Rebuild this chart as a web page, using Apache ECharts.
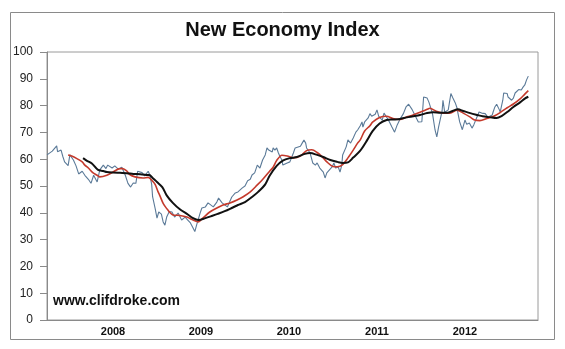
<!DOCTYPE html>
<html>
<head>
<meta charset="utf-8">
<title>New Economy Index</title>
<script src="https://cdn.jsdelivr.net/npm/echarts@6/dist/echarts.min.js"></script>
<style>
  html, body { margin: 0; padding: 0; background: #fff; }
  #chart { width: 565px; height: 349px; }
</style>
</head>
<body>
<div id="chart"></div>
<script>
// Weekly index readings, [decimal year, value]
const indexWeekly = [
  [2007.75,61.6],[2007.81,63.0],[2007.86,65.0],[2007.87,62.8],[2007.91,63.4],[2007.93,61.0],
  [2007.95,59.0],[2007.99,57.6],[2008.01,61.6],[2008.03,62.0],[2008.05,59.7],[2008.08,57.5],
  [2008.11,54.5],[2008.15,55.5],[2008.18,54.0],[2008.22,52.5],[2008.25,51.0],[2008.28,54.0],
  [2008.32,51.5],[2008.35,56.0],[2008.39,57.8],[2008.42,56.5],[2008.44,57.8],[2008.49,56.7],
  [2008.52,57.5],[2008.56,56.3],[2008.60,57.0],[2008.64,54.0],[2008.67,51.0],[2008.70,49.6],
  [2008.73,51.1],[2008.76,51.0],[2008.78,55.5],[2008.83,55.0],[2008.86,53.8],[2008.90,55.5],
  [2008.92,54.0],[2008.94,50.5],[2008.95,46.0],[2008.98,41.5],[2009.00,38.0],[2009.02,40.3],
  [2009.05,39.5],[2009.07,36.6],[2009.09,35.4],[2009.11,38.4],[2009.14,40.5],[2009.17,40.3],
  [2009.20,38.4],[2009.24,39.9],[2009.28,37.3],[2009.32,38.4],[2009.35,37.3],[2009.38,36.2],
  [2009.41,34.3],[2009.43,33.0],[2009.45,35.4],[2009.49,39.9],[2009.51,41.8],[2009.55,42.2],
  [2009.58,43.7],[2009.60,44.0],[2009.64,42.2],[2009.68,44.0],[2009.70,45.5],[2009.74,43.7],
  [2009.76,43.7],[2009.80,42.2],[2009.82,42.9],[2009.85,45.9],[2009.89,47.4],[2009.92,47.8],
  [2009.97,49.3],[2010.00,50.0],[2010.03,52.0],[2010.06,52.5],[2010.08,54.1],[2010.11,54.9],
  [2010.14,57.8],[2010.17,56.7],[2010.20,59.7],[2010.23,61.6],[2010.25,64.2],[2010.27,63.4],
  [2010.31,62.7],[2010.32,64.2],[2010.34,63.4],[2010.36,64.2],[2010.38,62.3],[2010.40,60.8],
  [2010.42,59.7],[2010.43,57.8],[2010.45,57.1],[2010.48,58.6],[2010.51,59.0],[2010.55,62.3],
  [2010.57,64.2],[2010.59,64.6],[2010.63,64.8],[2010.65,66.0],[2010.67,67.2],[2010.69,66.0],
  [2010.70,64.2],[2010.74,62.3],[2010.77,58.6],[2010.80,57.8],[2010.82,58.6],[2010.85,56.7],
  [2010.89,55.2],[2010.91,53.0],[2010.93,54.9],[2010.95,55.2],[2010.99,57.1],[2011.01,58.6],
  [2011.03,56.7],[2011.06,57.1],[2011.08,55.2],[2011.10,57.8],[2011.11,61.6],[2011.15,64.6],
  [2011.17,67.2],[2011.20,66.0],[2011.23,67.9],[2011.26,70.1],[2011.28,70.9],[2011.31,72.5],
  [2011.33,73.9],[2011.34,72.0],[2011.36,73.9],[2011.40,75.4],[2011.42,77.0],[2011.44,76.0],
  [2011.48,76.8],[2011.50,78.4],[2011.52,76.0],[2011.56,74.6],[2011.58,77.2],[2011.60,77.6],
  [2011.63,74.6],[2011.67,72.0],[2011.70,70.1],[2011.73,72.8],[2011.76,74.8],[2011.80,77.0],
  [2011.83,79.5],[2011.86,80.5],[2011.90,78.5],[2011.93,76.5],[2011.97,73.9],[2012.01,74.0],
  [2012.03,83.2],[2012.07,82.8],[2012.09,81.3],[2012.10,82.0],[2012.13,77.2],[2012.16,70.9],
  [2012.18,68.3],[2012.20,72.0],[2012.24,78.0],[2012.25,82.0],[2012.27,77.5],[2012.31,78.4],
  [2012.34,84.5],[2012.36,83.0],[2012.39,81.0],[2012.41,79.1],[2012.42,77.2],[2012.44,73.9],
  [2012.47,71.0],[2012.48,71.5],[2012.50,74.6],[2012.52,73.0],[2012.55,73.5],[2012.58,71.6],
  [2012.60,72.8],[2012.64,76.0],[2012.66,77.6],[2012.69,77.2],[2012.73,77.0],[2012.76,75.7],
  [2012.81,76.5],[2012.82,77.6],[2012.84,79.5],[2012.86,80.5],[2012.89,78.5],[2012.90,77.6],
  [2012.93,82.0],[2012.94,84.7],[2012.98,84.5],[2012.99,83.2],[2013.01,83.5],[2013.03,82.0],
  [2013.05,82.8],[2013.07,84.7],[2013.09,85.1],[2013.11,86.0],[2013.14,85.8],[2013.16,86.9],
  [2013.18,87.7],[2013.20,89.6],[2013.22,91.0]
];

// Short moving average
const shortAverage = [
  [2007.99,61.6],[2008.03,61.2],[2008.09,60.2],[2008.15,59.0],[2008.18,57.8],[2008.22,56.7],
  [2008.27,55.0],[2008.32,54.0],[2008.35,53.4],[2008.43,54.0],[2008.50,55.2],[2008.58,56.5],
  [2008.61,56.5],[2008.66,55.5],[2008.69,54.3],[2008.75,53.4],[2008.84,53.0],[2008.90,53.2],
  [2008.93,52.5],[2008.95,51.8],[2008.98,50.5],[2009.01,48.0],[2009.03,46.6],[2009.07,43.5],
  [2009.09,42.5],[2009.13,40.8],[2009.15,40.0],[2009.18,39.2],[2009.26,39.0],[2009.34,38.4],
  [2009.41,37.3],[2009.47,36.6],[2009.52,38.0],[2009.60,40.3],[2009.68,41.8],[2009.75,42.9],
  [2009.83,43.7],[2009.91,44.8],[2009.98,46.0],[2010.06,47.8],[2010.14,50.4],[2010.20,52.4],
  [2010.28,55.5],[2010.32,57.0],[2010.36,59.5],[2010.42,61.5],[2010.48,61.2],[2010.55,60.5],
  [2010.63,61.2],[2010.70,63.2],[2010.76,63.5],[2010.82,62.5],[2010.88,60.8],[2010.93,59.0],
  [2011.00,57.3],[2011.05,57.2],[2011.11,58.0],[2011.17,60.5],[2011.23,63.4],[2011.28,66.0],
  [2011.31,67.2],[2011.36,70.5],[2011.42,72.5],[2011.45,73.8],[2011.53,75.6],[2011.61,76.0],
  [2011.68,75.2],[2011.76,74.8],[2011.84,75.8],[2011.91,76.5],[2011.99,77.5],[2012.07,78.6],
  [2012.10,79.0],[2012.18,77.8],[2012.25,77.2],[2012.33,77.2],[2012.41,78.3],[2012.48,77.2],
  [2012.56,75.7],[2012.61,74.6],[2012.67,74.4],[2012.75,75.2],[2012.82,75.9],[2012.90,77.4],
  [2012.98,79.2],[2013.05,80.6],[2013.13,82.6],[2013.18,84.3],[2013.22,85.6]
];

// Long moving average
const longAverage = [
  [2008.16,60.4],[2008.20,59.5],[2008.26,58.4],[2008.33,56.0],[2008.39,55.6],[2008.43,55.2],
  [2008.50,55.0],[2008.58,54.9],[2008.66,54.8],[2008.73,54.5],[2008.81,54.4],[2008.89,54.1],
  [2008.92,54.0],[2008.95,53.0],[2009.00,51.5],[2009.06,49.6],[2009.11,46.5],[2009.18,43.7],
  [2009.26,41.3],[2009.34,39.6],[2009.41,38.0],[2009.47,37.3],[2009.55,38.0],[2009.63,38.9],
  [2009.69,39.6],[2009.77,40.6],[2009.85,41.8],[2009.92,42.9],[2010.00,44.0],[2010.08,45.9],
  [2010.15,47.8],[2010.23,50.6],[2010.28,53.8],[2010.36,57.5],[2010.43,59.5],[2010.51,60.4],
  [2010.59,60.8],[2010.68,62.0],[2010.74,62.3],[2010.82,61.6],[2010.89,60.8],[2010.97,59.7],
  [2011.05,59.0],[2011.11,58.6],[2011.17,58.8],[2011.23,60.6],[2011.31,63.2],[2011.39,67.2],
  [2011.45,70.5],[2011.53,73.3],[2011.61,74.6],[2011.68,74.8],[2011.76,75.0],[2011.84,75.6],
  [2011.91,76.0],[2011.99,76.5],[2012.07,77.2],[2012.14,77.5],[2012.22,77.3],[2012.30,77.3],
  [2012.36,78.0],[2012.42,78.6],[2012.48,78.0],[2012.56,77.2],[2012.64,76.5],[2012.70,76.0],
  [2012.78,75.7],[2012.86,75.4],[2012.92,76.2],[2012.98,77.6],[2013.05,79.5],[2013.13,81.3],
  [2013.18,82.6],[2013.22,83.3]
];

const yearLabels = [2008, 2009, 2010, 2011, 2012];
const chartTitle = 'New Economy Index';
const siteLabel = 'www.clifdroke.com';

const chart = echarts.init(document.getElementById('chart'), null, { renderer: 'canvas' });

chart.setOption({
  animation: false,
  backgroundColor: '#ffffff',
  grid: {
    left: 47, top: 52, right: 27, bottom: 29,
    show: true, borderColor: '#9a9a9a', borderWidth: 1, backgroundColor: '#ffffff'
  },
  graphic: [
    {
      type: 'rect', silent: true, z: -1,
      shape: { x: 10.5, y: 12.5, width: 544, height: 327 },
      style: { fill: 'none', stroke: '#8a8a8a', lineWidth: 1 }
    },
    {
      type: 'text', left: 'center', top: 20,
      style: {
        text: chartTitle, fill: '#111',
        font: 'bold 20px "Liberation Sans", Arial, sans-serif'
      }
    },
    {
      type: 'text', left: 53, top: 294,
      style: {
        text: siteLabel, fill: '#111',
        font: 'bold 14px "Liberation Sans", Arial, sans-serif'
      }
    }
  ],
  xAxis: {
    type: 'value',
    min: 2007.75, max: 2013.33,
    axisLine: { show: true, lineStyle: { color: '#8a8a8a', width: 1 } },
    axisTick: { show: false },
    splitLine: { show: false },
    axisLabel: {
      customValues: yearLabels.map(y => y + 0.5),
      formatter: v => String(Math.floor(v)),
      color: '#111', fontWeight: 'bold', fontSize: 11,
      fontFamily: '"Liberation Sans", Arial, sans-serif',
      margin: 6
    }
  },
  yAxis: {
    type: 'value', min: 0, max: 100, interval: 10,
    axisLine: { show: true, lineStyle: { color: '#8a8a8a', width: 1 } },
    axisTick: { show: true, length: 7, lineStyle: { color: '#8a8a8a' } },
    splitLine: { show: false },
    axisLabel: {
      color: '#222', fontSize: 12, margin: 14,
      fontFamily: '"Liberation Sans", Arial, sans-serif'
    }
  },
  series: [
    {
      name: 'Index', type: 'line', data: indexWeekly, showSymbol: false,
      lineStyle: { color: '#5b7a98', width: 1.1 }, z: 2
    },
    {
      name: 'Short average', type: 'line', data: shortAverage, showSymbol: false, smooth: 0.3,
      lineStyle: { color: '#c43a2c', width: 1.6 }, z: 3
    },
    {
      name: 'Long average', type: 'line', data: longAverage, showSymbol: false, smooth: 0.3,
      lineStyle: { color: '#111111', width: 2 }, z: 4
    }
  ]
});
</script>
</body>
</html>
